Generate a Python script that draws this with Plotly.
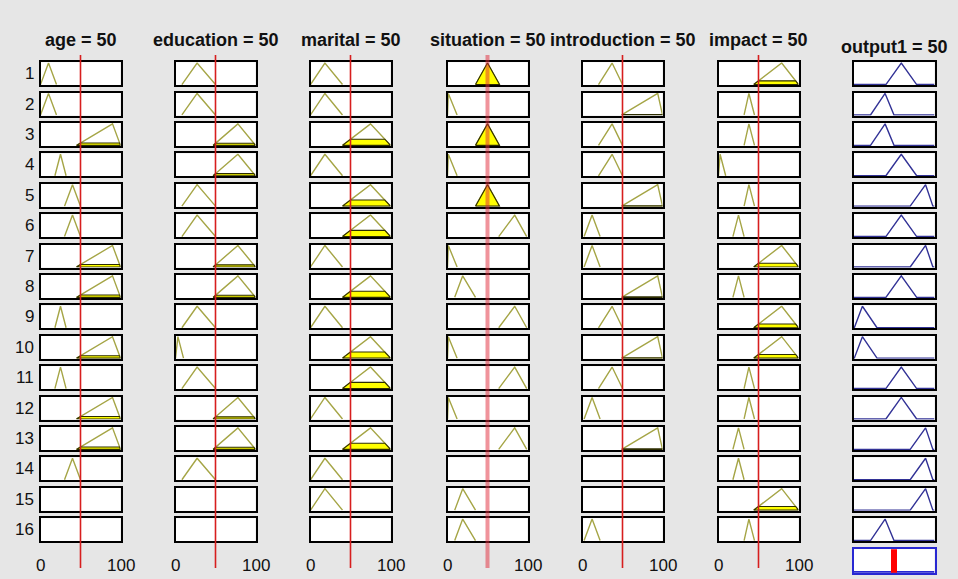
import plotly.graph_objects as go

# ---------------- data ----------------
col_names = ["age", "education", "marital", "situation", "introduction", "impact", "output1"]
col_values = [50, 50, 50, 50, 50, 50, 50]
row_labels = [str(i) for i in range(1, 17)]
tick_labels = ["0", "100"]
tick_values = [0, 100]

# triangular membership functions [a, b, c] used by each rule (None = not used)
age_mf = [[0, 10, 20], [0, 10, 20], [45, 90, 100], [18, 25, 32], [30, 40, 50], [30, 40, 50],
          [45, 90, 100], [45, 90, 100], [18, 25, 32], [45, 90, 100], [18, 25, 32], [45, 90, 100],
          [45, 90, 100], [30, 40, 50], None, None]
education_mf = [[8, 27, 50], [8, 27, 50], [47, 78, 100], [47, 78, 100], [8, 27, 50], [8, 27, 50],
                [47, 78, 100], [47, 78, 100], [8, 27, 50], [0, 3, 10], [8, 27, 50], [47, 78, 100],
                [47, 78, 100], [8, 27, 50], None, None]
marital_mf = [[0, 18, 40], [0, 18, 40], [40, 75, 100], [0, 18, 40], [40, 75, 100], [40, 75, 100],
              [0, 18, 40], [40, 75, 100], [0, 18, 40], [40, 75, 100], [40, 75, 100], [0, 18, 40],
              [40, 75, 100], [0, 18, 40], [0, 18, 40], None]
situation_mf = [[35, 50, 65], [0, 1, 12], [35, 50, 65], [0, 1, 12], [35, 50, 65], [64, 84, 99],
                [0, 1, 12], [9, 19, 35], [64, 84, 99], [0, 1, 12], [64, 84, 99], [0, 1, 12],
                [64, 84, 99], None, [9, 19, 35], [9, 19, 35]]
introduction_mf = [[20, 37, 50], [49, 94, 100], [20, 37, 50], [20, 37, 50], [49, 94, 100], [2, 12, 22],
                   [2, 12, 22], [49, 94, 100], [20, 37, 50], [49, 94, 100], [20, 37, 50], [2, 12, 22],
                   [49, 94, 100], None, None, [2, 12, 22]]
impact_mf = [[44, 79, 100], [32, 38, 45], [32, 38, 45], [0, 2, 9], [32, 38, 45], [18, 25, 32],
             [44, 79, 100], [18, 25, 32], [44, 79, 100], [44, 79, 100], [32, 38, 45], [32, 38, 45],
             [18, 25, 32], [18, 25, 32], [44, 79, 100], [32, 38, 45]]
output1_mf = [[40, 59, 78], [21, 39, 50], [21, 39, 50], [40, 59, 78], [70, 89, 98], [40, 59, 78],
              [70, 89, 98], [40, 59, 78], [1, 11, 29], [1, 11, 29], [40, 59, 78], [40, 59, 78],
              [70, 89, 98], [70, 89, 98], [70, 89, 98], [21, 39, 50]]

all_mf = [age_mf, education_mf, marital_mf, situation_mf, introduction_mf, impact_mf, output1_mf]

# ---------------- layout geometry (pixels) ----------------
W, H = 958, 579
col_left = [39, 174, 309, 446, 581, 717, 852]
box_w = 83
row_top0, row_pitch, box_h = 60.7, 30.4, 26
agg_top, agg_h = 547.7, 26.5

BG = "#e6e6e6"
MF_COLOR = "rgb(165,165,70)"
FILL_COLOR = "#ffff00"
FILL_EDGE = "rgb(45,45,0)"
OUT_COLOR = "rgb(50,50,150)"
RED = "rgb(215,30,30)"
FONT = "Liberation Sans, Arial, sans-serif"


def px_x(p):
    return p / W


def px_y(p):
    return 1 - p / H


def trimf(x, abc):
    a, b, c = abc
    if x <= a or x >= c:
        return 1.0 if x == b else 0.0
    if x <= b:
        return (x - a) / (b - a) if b > a else 1.0
    return (c - x) / (c - b) if c > b else 1.0


fig = go.Figure()
layout = dict(
    width=W, height=H, margin=dict(l=0, r=0, t=0, b=0),
    paper_bgcolor=BG, plot_bgcolor="white", showlegend=False,
    annotations=[], shapes=[],
)

k = 0
first_axis_of_col = {}
last_axis_of_col = {}


def add_axis(xd, yd, linecolor="black"):
    global k
    k += 1
    sx = "" if k == 1 else str(k)
    common = dict(showticklabels=False, ticks="", showgrid=False, zeroline=False,
                  showline=True, mirror=True, linecolor=linecolor, linewidth=2, fixedrange=True)
    layout["xaxis" + sx] = dict(domain=xd, range=[0, 100], anchor="y" + sx, **common)
    layout["yaxis" + sx] = dict(domain=yd, range=[-0.03, 1.04], anchor="x" + sx, **common)
    # placeholder trace so that every (even empty) rule box is drawn
    fig.add_trace(go.Scatter(x=[None], y=[None], mode="lines", xaxis="x" + sx, yaxis="y" + sx,
                             hoverinfo="skip"))
    return "x" + sx, "y" + sx


for c, name in enumerate(col_names):
    L = col_left[c]
    bw = box_w + (1 if c == 6 else 0)
    xd = [px_x(L + 1.5), px_x(L + bw - 1.5)]
    val = col_values[c]
    for r in range(16):
        top = row_top0 + r * row_pitch
        yd = [px_y(top + box_h - 1.5), px_y(top + 1.5)]
        xa, ya = add_axis(xd, yd)
        if r == 0:
            first_axis_of_col[c] = xa
        last_axis_of_col[c] = xa
        mf = all_mf[c][r]
        if mf is None:
            continue
        a, b, cc = mf
        if c == 6:
            fig.add_trace(go.Scatter(x=[0, a, b, cc, 100], y=[0, 0, 1, 0, 0], mode="lines",
                                     line=dict(color=OUT_COLOR, width=1.4),
                                     xaxis=xa, yaxis=ya, hoverinfo="skip"))
        else:
            fig.add_trace(go.Scatter(x=[a, b, cc], y=[0, 1, 0], mode="lines",
                                     line=dict(color=MF_COLOR, width=1.4),
                                     xaxis=xa, yaxis=ya, hoverinfo="skip"))
            mu = trimf(val, mf)
            if mu > 0:
                xs = [a, a + mu * (b - a), cc - mu * (cc - b), cc, a]
                ys = [0, mu, mu, 0, 0]
                fig.add_trace(go.Scatter(x=xs, y=ys, mode="lines", fill="toself",
                                         fillcolor=FILL_COLOR,
                                         line=dict(color=FILL_EDGE, width=1.1),
                                         xaxis=xa, yaxis=ya, hoverinfo="skip"))

    # column title
    ty = 46.7 if c == 6 else 40
    layout["annotations"].append(dict(
        text=f"{name} = {val}", x=px_x(L + bw / 2), y=px_y(ty), xref="paper", yref="paper",
        xanchor="center", yanchor="middle", showarrow=False,
        font=dict(family=FONT, size=18, color="#111", weight="bold")))

    if c < 6:
        # red input line
        sit = (name == "situation")
        layout["shapes"].append(dict(
            type="line", xref=first_axis_of_col[c], yref="paper", x0=val, x1=val,
            y0=px_y(55), y1=px_y(568), layer="above",
            line=dict(color="rgba(225,40,55,0.5)" if sit else RED, width=4 if sit else 1.6)))
        # bottom tick labels
        for tv, tt in zip(tick_values, tick_labels):
            layout["annotations"].append(dict(
                text=tt, x=tv, y=px_y(565), xref=last_axis_of_col[c], yref="paper",
                xanchor="center", yanchor="middle", showarrow=False,
                font=dict(family=FONT, size=17, color="#111")))

# aggregated output box
L = col_left[6]
xa, ya = add_axis([px_x(L + 1.5), px_x(L + box_w + 1 - 1.5)],
                  [px_y(agg_top + agg_h - 1.5), px_y(agg_top + 1.5)], linecolor="rgb(40,40,210)")
fig.add_trace(go.Scatter(x=[0, 100], y=[0, 0], mode="lines",
                         line=dict(color="rgb(40,40,210)", width=2),
                         xaxis=xa, yaxis=ya, hoverinfo="skip"))
fig.add_trace(go.Scatter(x=[col_values[6], col_values[6]], y=[-0.1, 1.1], mode="lines",
                         line=dict(color="red", width=6),
                         xaxis=xa, yaxis=ya, hoverinfo="skip"))

# row labels
for r, lab in enumerate(row_labels):
    top = row_top0 + r * row_pitch
    layout["annotations"].append(dict(
        text=lab, x=px_x(35.5), y=px_y(top + box_h / 2), xref="paper", yref="paper",
        xanchor="right", yanchor="middle", showarrow=False,
        font=dict(family=FONT, size=17, color="#111")))

fig.update_layout(**layout)
fig.write_html("out.html", config={"displayModeBar": False},
               post_script="document.body.style.margin='0';document.body.style.overflow='hidden';")
